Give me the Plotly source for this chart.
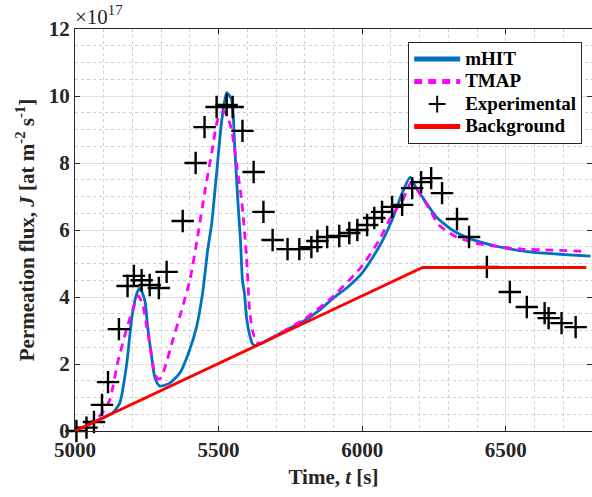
import plotly.graph_objects as go

# ---- data (J in units of 1e17 at m^-2 s^-1) ----
mhit_t = [5000, 5050, 5100, 5132, 5156, 5180, 5198, 5215, 5226, 5243, 5253, 5267, 5278, 5295,
          5330, 5365, 5399, 5423, 5444, 5462, 5476, 5493, 5510, 5528, 5545, 5556, 5566, 5576,
          5583, 5590, 5597, 5608, 5618, 5630, 5700, 5750, 5800, 5850, 5900, 5950, 6000, 6059,
          6104, 6139, 6167, 6185, 6208, 6257, 6313, 6372, 6476, 6590, 6795]
mhit_J = [0.0, 0.2, 0.4, 0.55, 0.84, 2.0, 3.4, 4.1, 4.27, 3.9, 3.1, 2.2, 1.6, 1.34,
          1.43, 1.73, 2.42, 3.1, 4.1, 5.4, 6.2, 7.7, 9.2, 10.1, 9.9, 8.5, 7.0, 5.7,
          4.5, 4.1, 3.4, 2.87, 2.6, 2.55, 2.85, 3.08, 3.3, 3.6, 3.97, 4.3, 4.72, 5.5,
          6.3, 7.1, 7.58, 7.3, 7.0, 6.4, 6.0, 5.75, 5.5, 5.34, 5.22]

tmap_t = [5000, 5050, 5080, 5100, 5122, 5150, 5185, 5208, 5220, 5235, 5250, 5262, 5278, 5290,
          5300, 5315, 5340, 5371, 5400, 5427, 5451, 5476, 5497, 5517, 5530, 5545, 5562, 5580,
          5597, 5608, 5618, 5632, 5650, 5700, 5800, 5896, 5997, 6059, 6104, 6139, 6170, 6222,
          6267, 6326, 6396, 6476, 6556, 6660, 6780]
tmap_J = [0.0, 0.22, 0.4, 0.6, 0.95, 2.1, 3.2, 3.8, 4.03, 3.8, 3.1, 2.5, 1.7, 1.55,
          1.6, 1.95, 2.7, 3.6, 4.5, 5.8, 7.1, 8.3, 9.3, 9.55, 9.4, 9.0, 8.0, 6.9,
          5.2, 3.6, 3.0, 2.65, 2.62, 2.85, 3.35, 4.0, 4.9, 5.7, 6.45, 6.85, 7.4, 6.8,
          6.15, 5.8, 5.6, 5.5, 5.43, 5.4, 5.36]

exp_t = [5005, 5040, 5066, 5094, 5115, 5153, 5183, 5205, 5232, 5260, 5292, 5319, 5375, 5420,
         5451, 5493, 5528, 5549, 5583, 5622, 5656, 5688, 5740, 5781, 5823, 5844, 5878, 5920,
         5955, 5983, 6017, 6042, 6069, 6104, 6139, 6174, 6205, 6240, 6278, 6330, 6372, 6434,
         6514, 6573, 6635, 6649, 6694, 6743]
exp_J = [0.0, 0.1, 0.27, 0.78, 1.46, 3.04, 4.33, 4.63, 4.5, 4.36, 4.27, 4.75, 6.27, 8.0,
         9.07, 9.67, 9.73, 9.67, 8.96, 7.73, 6.54, 5.7, 5.43, 5.43, 5.49, 5.67, 5.79, 5.82,
         5.91, 6.0, 6.15, 6.36, 6.54, 6.69, 6.75, 7.25, 7.43, 7.55, 7.1, 6.33, 5.79, 4.9,
         4.15, 3.7, 3.52, 3.37, 3.22, 3.1]

bg_t = [5000, 6210, 6780]
bg_J = [0.0, 4.88, 4.88]

x_ticks = [5000, 5500, 6000, 6500]
y_ticks = [0, 2, 4, 6, 8, 10, 12]

FONT = "Liberation Serif"


def leg(name):
    return f'<span style="font-size:19px"><b>{name}</b></span>'


fig = go.Figure()
fig.add_trace(go.Scatter(x=mhit_t, y=mhit_J, mode="lines", name=leg("mHIT"),
                         line=dict(color="#0072BD", width=2.8, shape="spline", smoothing=0.6)))
fig.add_trace(go.Scatter(x=tmap_t, y=tmap_J, mode="lines", name=leg("TMAP"),
                         line=dict(color="#FF00FF", width=2.8, dash="8px,6px", shape="spline", smoothing=0.6)))
fig.add_trace(go.Scatter(x=exp_t, y=exp_J, mode="markers", name=leg("Experimental"),
                         cliponaxis=False,
                         marker=dict(symbol="cross-thin", size=16, color="black",
                                     line=dict(width=2.4, color="black"))))
fig.add_trace(go.Scatter(x=bg_t, y=bg_J, mode="lines", name=leg("Background"),
                         line=dict(color="#FF0000", width=2.8)))

axis_common = dict(
    showline=True, linecolor="#262626", linewidth=1, mirror="ticks",
    ticks="inside", ticklen=5, tickcolor="#262626",
    showgrid=True, gridcolor="#DFDFDF", gridwidth=1,
    zeroline=False,
    tickfont=dict(family=FONT, size=21, color="#262626"),
)

fig.update_xaxes(range=[5000, 6800], tickvals=x_ticks, ticktext=[f"<b>{v}</b>" for v in x_ticks],
                 minor=dict(dtick=100, showgrid=True, griddash="dot", gridcolor="#D0D0D0", ticks=""),
                 title=dict(text="<b>Time, <i>t</i> [s]</b>", font=dict(family=FONT, size=21, color="#262626"),
                            standoff=8),
                 **axis_common)
fig.update_yaxes(range=[0, 12], tickvals=y_ticks, ticktext=[f"<b>{v}</b>" for v in y_ticks],
                 minor=dict(dtick=0.5, showgrid=True, griddash="dot", gridcolor="#D0D0D0", ticks=""),
                 title=dict(text="<b>Permeation flux, <i>J</i> [at m<sup>-2</sup> s<sup>-1</sup>]</b>",
                            font=dict(family=FONT, size=21, color="#262626"), standoff=8),
                 **axis_common)

fig.add_annotation(x=0, y=1, xref="paper", yref="paper", xanchor="left", yanchor="bottom",
                   text="×10<sup>17</sup>", showarrow=False, xshift=-2, yshift=-2,
                   font=dict(family=FONT, size=21, color="#262626"))

fig.update_layout(
    width=592, height=497,
    margin=dict(l=75, r=0, t=29, b=66),
    plot_bgcolor="white", paper_bgcolor="white",
    showlegend=True,
    legend=dict(x=0.981, y=0.968, xanchor="right", yanchor="top",
                bgcolor="white", bordercolor="#262626", borderwidth=1,
                font=dict(family=FONT, size=15, color="black"),
                itemsizing="constant", tracegroupgap=0, itemwidth=46),
)

fig.write_html("out.html")
